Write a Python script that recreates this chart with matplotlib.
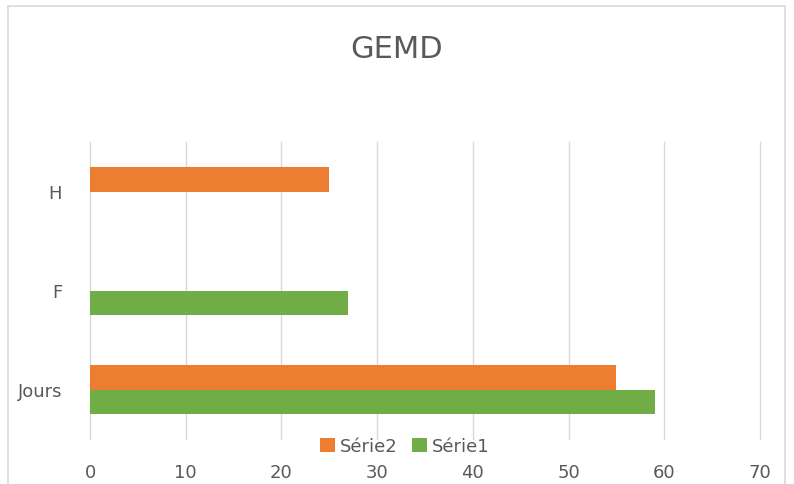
import matplotlib.pyplot as plt
from matplotlib.patches import Rectangle
import numpy as np

plt.rcParams['font.family'] = ['Liberation Sans Narrow', 'DejaVu Sans']

categories = ['Jours', 'F', 'H']
serie1 = [59, 27, 0]
serie2 = [55, 0, 25]
xticks = [0, 10, 20, 30, 40, 50, 60, 70]

text_col = '#595959'
grid_col = '#d9d9d9'

fig = plt.figure(figsize=(7.94, 4.85), dpi=100)
ax = fig.add_axes([90 / 794, 1 - 440 / 485, 670 / 794, 297 / 485])

y = np.arange(len(categories))
h = 0.25
ax.barh(y - h / 2, serie1, height=h, color='#70AD47', label='Série1')
ax.barh(y + h / 2, serie2, height=h, color='#ED7D31', label='Série2')

ax.set_xlim(0, 70)
ax.set_ylim(-0.5, 2.5)
ax.set_xticks(xticks)
ax.set_yticks(y)
ax.set_yticklabels(categories)
ax.grid(axis='x', color=grid_col, linewidth=1)
for gl in ax.get_xgridlines():
    gl.set_clip_on(False)
ax.set_axisbelow(True)
for s in ax.spines.values():
    s.set_visible(False)
ax.tick_params(axis='both', length=0, labelsize=13, colors=text_col)
ax.tick_params(axis='x', pad=17)
ax.tick_params(axis='y', pad=20)

fig.text(397 / 794, 1 - 50 / 485, 'GEMD', ha='center', va='center',
         fontsize=22, color=text_col)

handles, labels = ax.get_legend_handles_labels()
leg = fig.legend(handles[::-1], labels[::-1], loc='center', ncol=2,
                 bbox_to_anchor=(405 / 794, 1 - 447 / 485), frameon=False,
                 fontsize=13, handlelength=0.8, handleheight=0.8,
                 handletextpad=0.3, columnspacing=0.8)
for t in leg.get_texts():
    t.set_color(text_col)

# chart border (bottom cut off)
fig.patches.append(Rectangle((8 / 794, -0.1), 777 / 794, 1.1 - 7 / 485,
                             transform=fig.transFigure, fill=False,
                             edgecolor=grid_col, linewidth=1.2))

fig.savefig('out.png', dpi=100)
